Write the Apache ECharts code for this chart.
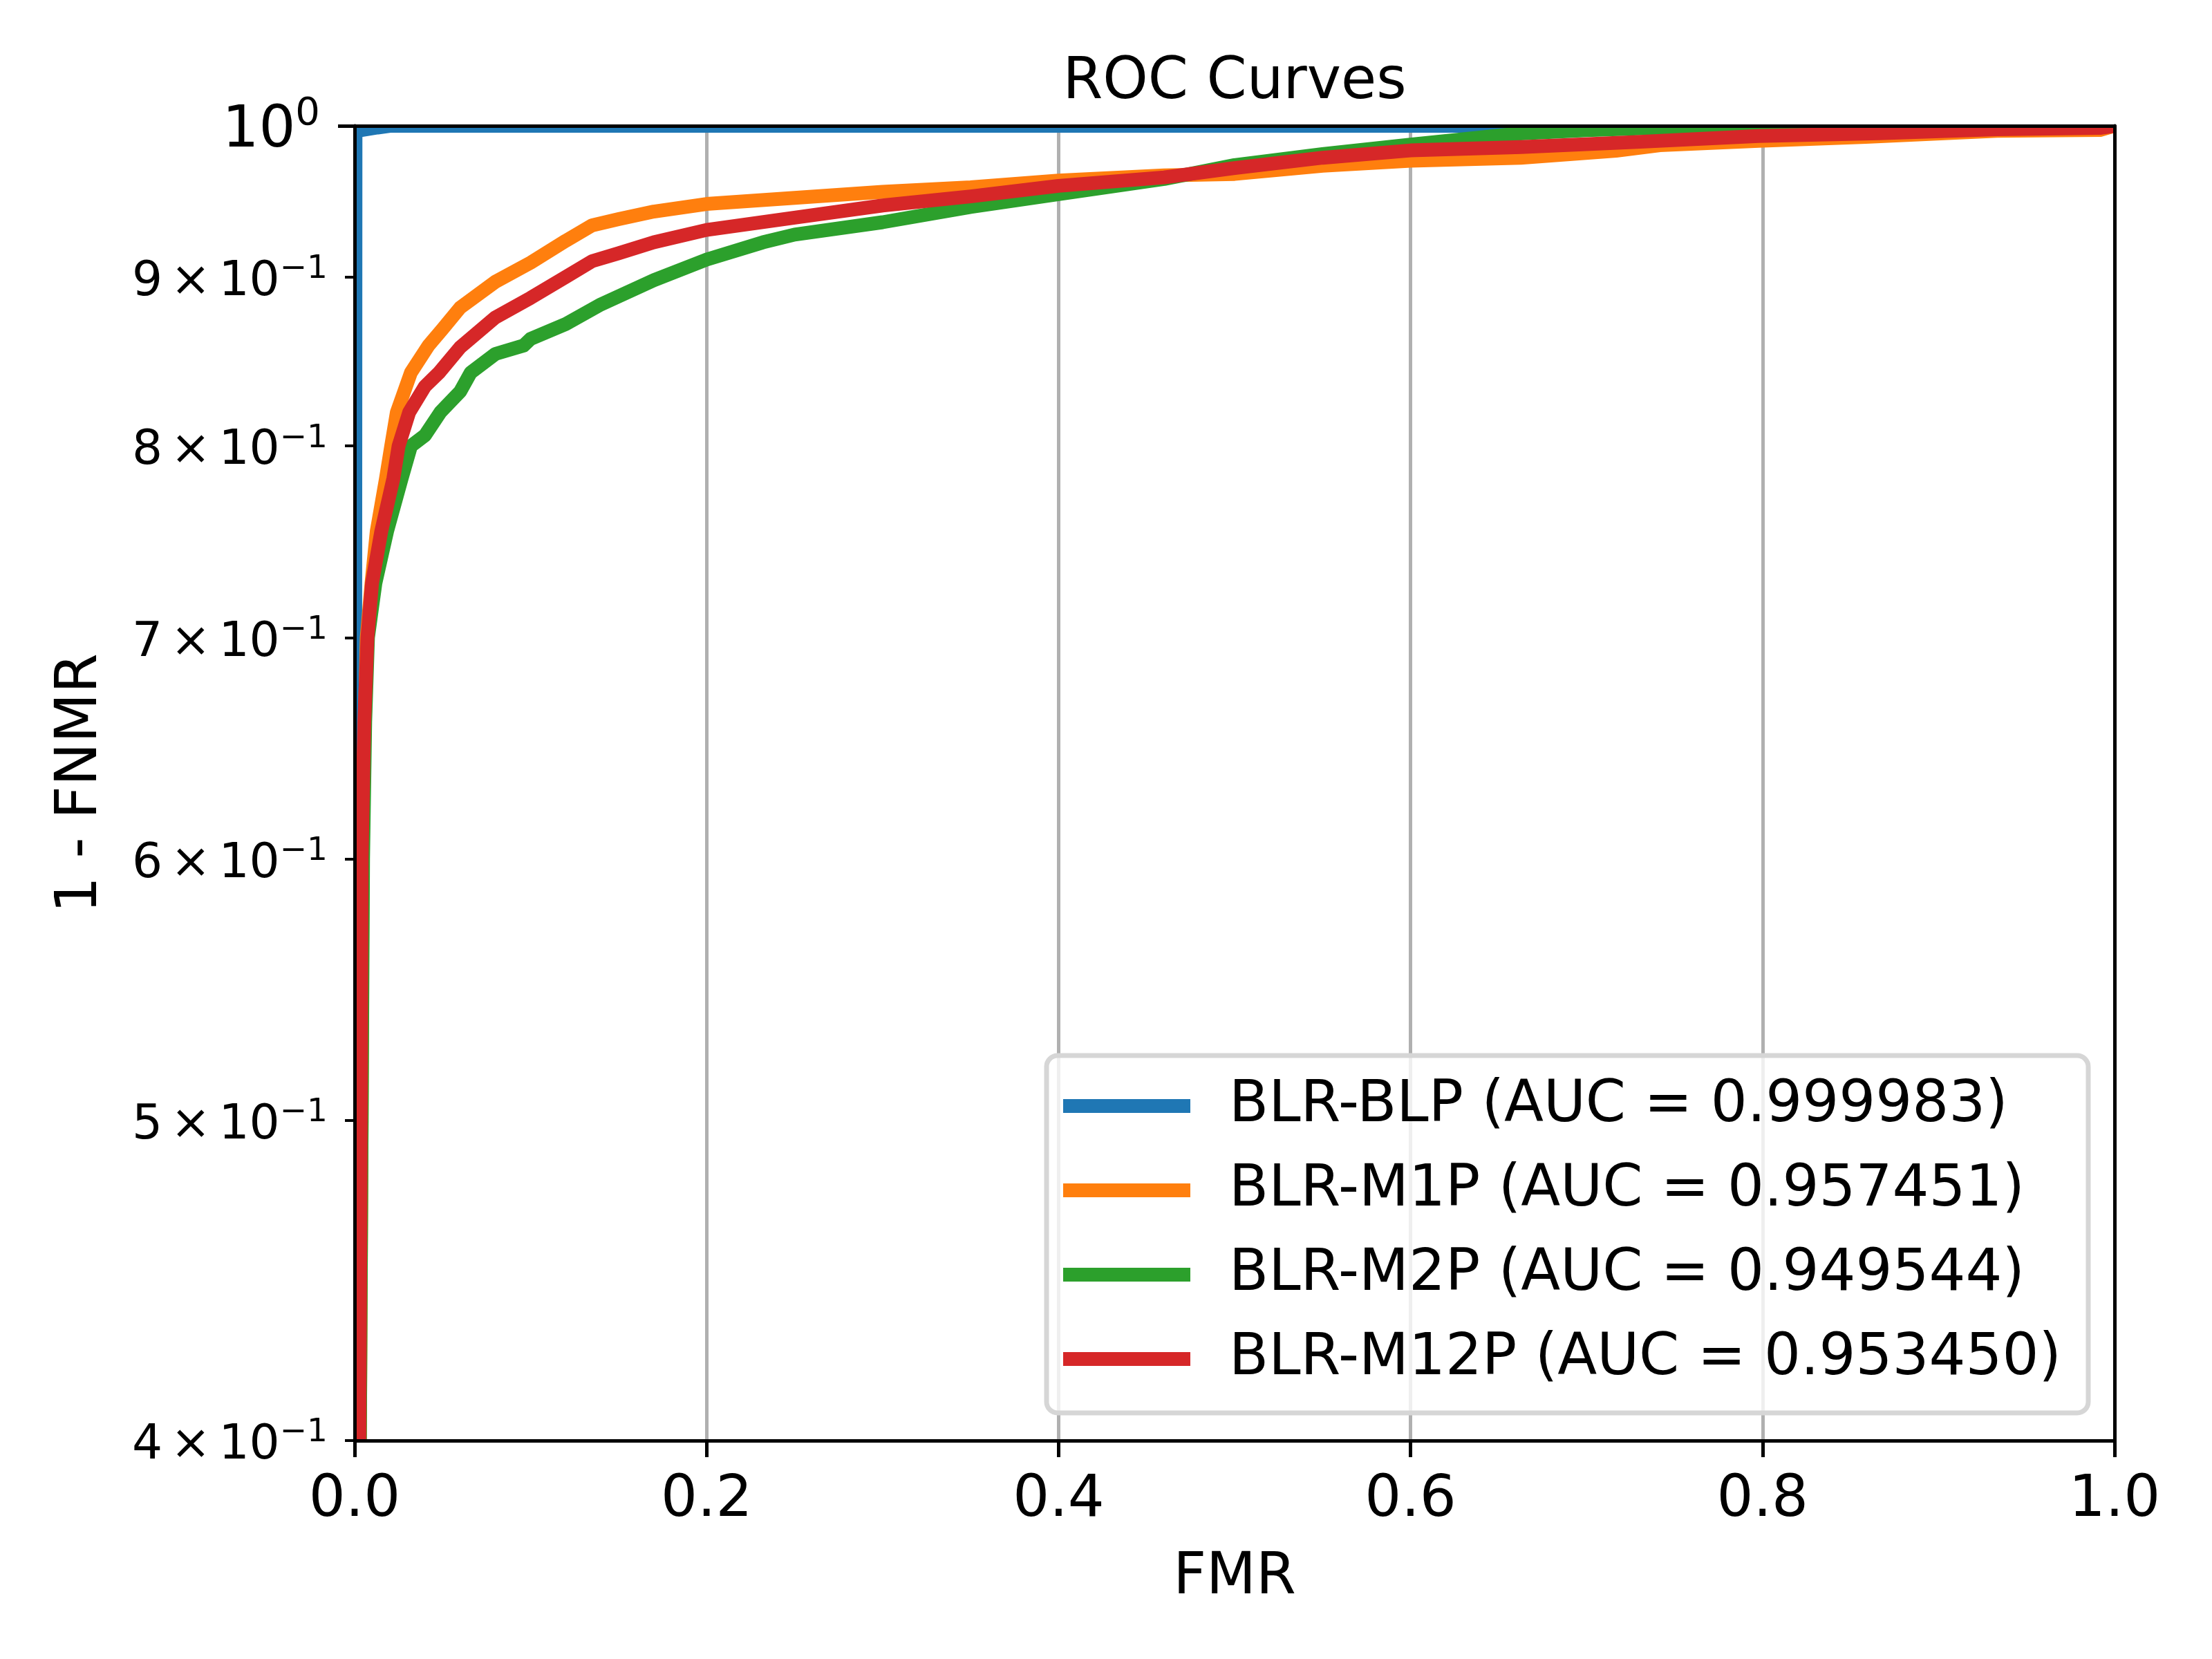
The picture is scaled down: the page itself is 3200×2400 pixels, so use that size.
<!DOCTYPE html>
<html>
<head>
<meta charset="utf-8">
<title>ROC Curves</title>
<script src="https://cdn.jsdelivr.net/npm/echarts@6.0.0/dist/echarts.min.js"></script>
<style>
  html, body { margin: 0; padding: 0; background: #fff; }
  #chart { width: 3200px; height: 2400px; }
</style>
</head>
<body>
<div id="chart"></div>
<script>
// legend labels
const seriesNames = [
  'BLR-BLP (AUC = 0.999983)',
  'BLR-M1P (AUC = 0.957451)',
  'BLR-M2P (AUC = 0.949544)',
  'BLR-M12P (AUC = 0.953450)'
]
const seriesColors = ['#1f77b4', '#ff7f0e', '#2ca02c', '#d62728']

// [FMR, 1 - FNMR]
const curveBLP = [
  [0, 0.3], [0.0005, 0.996], [0.004, 0.997], [0.013, 0.9988], [0.02, 1], [1, 1]
]
const curveM1P = [
  [0.0015, 0.3], [0.003, 0.4], [0.004, 0.5], [0.0045, 0.6], [0.0055, 0.65], [0.0069, 0.7],
  [0.0096, 0.727], [0.0126, 0.754], [0.0178, 0.782], [0.0208, 0.8], [0.024, 0.819], [0.032, 0.842],
  [0.042, 0.858], [0.05, 0.868], [0.06, 0.881], [0.08, 0.897], [0.1, 0.909], [0.12, 0.923],
  [0.135, 0.933], [0.15, 0.937], [0.17, 0.942], [0.2, 0.947], [0.25, 0.951], [0.3, 0.955],
  [0.35, 0.958], [0.4, 0.9625], [0.46, 0.966], [0.5, 0.967], [0.55, 0.9725], [0.6, 0.976],
  [0.6626, 0.978], [0.7167, 0.9828], [0.7416, 0.9866], [0.7977, 0.9896], [0.8586, 0.9923],
  [0.9332, 0.9965], [0.9917, 0.9971], [1, 1]
]
const curveM2P = [
  [0.0025, 0.3], [0.003, 0.4], [0.004, 0.5], [0.0048, 0.6], [0.006, 0.66], [0.0076, 0.7],
  [0.0118, 0.727], [0.0185, 0.754], [0.0267, 0.782], [0.032, 0.8], [0.04, 0.806], [0.0487, 0.819],
  [0.06, 0.831], [0.066, 0.842], [0.08, 0.853], [0.096, 0.858], [0.1, 0.862], [0.12, 0.871],
  [0.14, 0.883], [0.17, 0.898], [0.2, 0.911], [0.232, 0.922], [0.25, 0.927], [0.3, 0.935],
  [0.35, 0.945], [0.4, 0.9535], [0.46, 0.9636], [0.5, 0.973], [0.55, 0.9805], [0.6, 0.987],
  [0.6626, 0.9947], [0.7, 0.997], [0.75, 0.999], [0.78, 1], [1, 1]
]
const curveM12P = [
  [0.002, 0.3], [0.0027, 0.4], [0.0035, 0.5], [0.004, 0.6], [0.0055, 0.66], [0.0073, 0.7],
  [0.0099, 0.727], [0.0152, 0.754], [0.022, 0.782], [0.025, 0.8], [0.031, 0.819], [0.04, 0.834],
  [0.048, 0.842], [0.06, 0.857], [0.08, 0.875], [0.1, 0.887], [0.12, 0.9], [0.135, 0.91],
  [0.15, 0.915], [0.17, 0.922], [0.2, 0.93], [0.25, 0.938], [0.3, 0.946], [0.35, 0.952],
  [0.4, 0.959], [0.46, 0.9647], [0.5, 0.971], [0.55, 0.978], [0.6, 0.983], [0.6626, 0.9853],
  [0.7285, 0.9888], [0.7977, 0.9929], [0.866, 0.9948], [0.9332, 0.9976], [0.9917, 0.9985], [1, 1]
]
const curves = [curveBLP, curveM1P, curveM2P, curveM12P]

// ticks
const yMinorTicks = [0.4, 0.5, 0.6, 0.7, 0.8, 0.9]
const yMajorTicks = [1]

const FONT = 'DejaVu Sans'
const BIG = 83.3   // 12pt at 500 dpi
const SMALL = 69.4 // 10pt
const grid = { left: 513, top: 182, width: 2546, height: 1902 }

const spine = { show: true, onZero: false, lineStyle: { color: '#000', width: 5 } }
const off = { show: false }

function minorLabel (v) {
  return '{m|' + Math.round(v * 10) + '\u2006×\u200610}{s|−1}'
}

const option = {
  animation: false,
  backgroundColor: '#fff',
  title: {
    text: 'ROC Curves',
    left: grid.left + grid.width / 2,
    top: 79,
    padding: 0,
    textAlign: 'center',
    textStyle: { fontFamily: FONT, fontSize: BIG, lineHeight: BIG, fontWeight: 'normal', color: '#000' }
  },
  grid: grid,
  legend: {
    data: seriesNames,
    orient: 'vertical',
    left: 1514,
    top: 1527,
    padding: [28, 39, 33, 24],
    itemWidth: 184,
    itemHeight: 20,
    itemGap: 32,
    icon: 'rect',
    backgroundColor: 'rgba(255,255,255,0.8)',
    borderColor: '#d6d6d6',
    borderWidth: 7,
    borderRadius: 16,
    z: 4,
    textStyle: { fontFamily: FONT, fontSize: BIG, lineHeight: 90, color: '#000', padding: [0, 0, 0, 51] }
  },
  xAxis: [
    {
      // bottom axis with labels
      type: 'value', position: 'bottom', min: 0, max: 1, interval: 0.2, z: 5,
      axisLine: spine,
      axisTick: { show: true, length: 24, lineStyle: { color: '#000', width: 5 } },
      axisLabel: {
        margin: 46, fontFamily: FONT, fontSize: BIG, lineHeight: BIG, color: '#000',
        formatter: v => v.toFixed(1)
      },
      splitLine: off,
      name: 'FMR', nameLocation: 'middle', nameGap: 158,
      nameTextStyle: { fontFamily: FONT, fontSize: BIG, lineHeight: BIG, color: '#000' }
    },
    {
      // top spine
      type: 'value', position: 'top', min: 0, max: 1, z: 5,
      axisLine: spine, axisTick: off, axisLabel: off, splitLine: off
    },
    {
      // vertical grid, under the curves
      type: 'value', position: 'bottom', min: 0, max: 1, interval: 0.2, z: 0,
      axisLine: off, axisTick: off, axisLabel: off,
      splitLine: { show: true, lineStyle: { color: '#b0b0b0', width: 5 } }
    }
  ],
  yAxis: [
    {
      type: 'log', logBase: 10, position: 'left', min: 0.4, max: 1, z: 5,
      axisLine: spine,
      axisTick: { show: true, length: 14, customValues: yMinorTicks, lineStyle: { color: '#000', width: 4 } },
      axisLabel: {
        customValues: yMinorTicks, margin: 39, color: '#000', padding: [16, 0, 0, 0],
        formatter: minorLabel,
        rich: {
          m: { fontFamily: FONT, fontSize: SMALL, lineHeight: SMALL, verticalAlign: 'bottom', color: '#000' },
          s: { fontFamily: FONT, fontSize: 47, lineHeight: 47, verticalAlign: 'bottom', padding: [0, 0, 30, 0], color: '#000' }
        }
      },
      splitLine: off,
      name: '1 - FNMR', nameLocation: 'middle', nameGap: 354, nameRotate: 90,
      nameTextStyle: { fontFamily: FONT, fontSize: BIG, lineHeight: BIG, color: '#000' }
    },
    {
      type: 'log', logBase: 10, position: 'left', min: 0.4, max: 1, z: 5,
      axisLine: off,
      axisTick: { show: true, length: 24, customValues: yMajorTicks, lineStyle: { color: '#000', width: 5 } },
      axisLabel: {
        customValues: yMajorTicks, margin: 50, color: '#000', padding: [16, 0, 0, 0],
        formatter: () => '{m|10}{s|0}',
        rich: {
          m: { fontFamily: FONT, fontSize: BIG, lineHeight: BIG, verticalAlign: 'bottom', color: '#000' },
          s: { fontFamily: FONT, fontSize: 56, lineHeight: 56, verticalAlign: 'bottom', padding: [0, 0, 38, 0], color: '#000' }
        }
      },
      splitLine: off
    },
    {
      // right spine
      type: 'log', logBase: 10, position: 'right', min: 0.4, max: 1, z: 5,
      axisLine: spine, axisTick: off, axisLabel: off, splitLine: off
    }
  ],
  // white margins so the thick lines stop at the frame
  graphic: {
    elements: [
      { type: 'rect', z: 3, silent: true, shape: { x: 480, y: 150, width: 2620, height: 32 }, style: { fill: '#fff' } },
      { type: 'rect', z: 3, silent: true, shape: { x: 480, y: 150, width: 33, height: 1960 }, style: { fill: '#fff' } },
      { type: 'rect', z: 3, silent: true, shape: { x: 480, y: 2084, width: 2620, height: 20 }, style: { fill: '#fff' } },
      { type: 'rect', z: 3, silent: true, shape: { x: 3059, y: 150, width: 30, height: 1960 }, style: { fill: '#fff' } }
    ]
  },
  series: curves.map((data, i) => ({
    name: seriesNames[i],
    type: 'line',
    xAxisIndex: 0,
    yAxisIndex: 0,
    data: data,
    showSymbol: false,
    symbol: 'none',
    color: seriesColors[i],
    lineStyle: { width: 20, color: seriesColors[i], join: 'round' },
    emphasis: { disabled: true },
    z: 2
  }))
}

const chart = echarts.init(document.getElementById('chart'), null, { width: 3200, height: 2400 })
chart.setOption(option)
</script>
</body>
</html>
